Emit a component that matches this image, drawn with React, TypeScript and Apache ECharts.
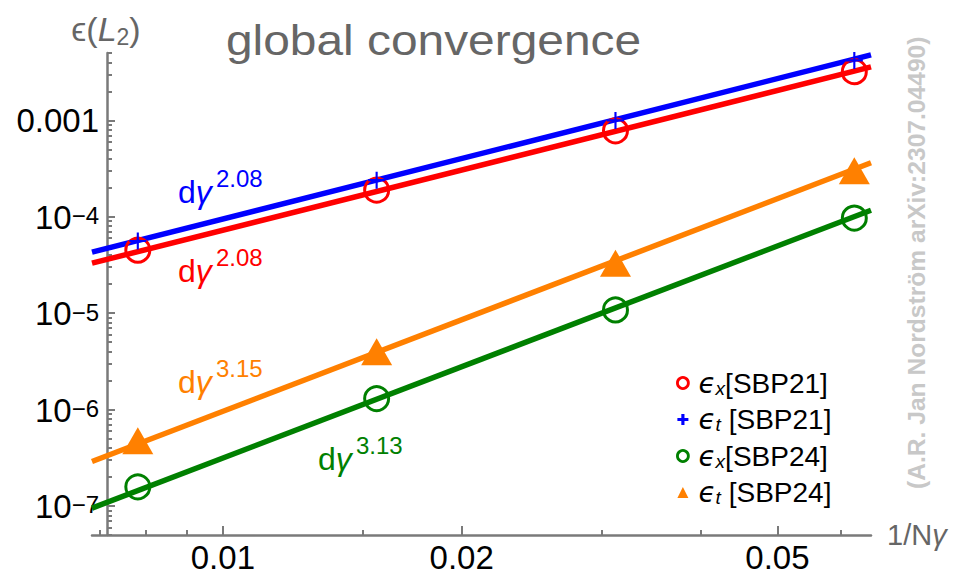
import React, { useEffect, useRef } from "react";
import * as echarts from "echarts";

// ---- data ----
const xValues = [0.0078125, 0.015625, 0.03125, 0.0625];
const epsX_SBP21 = [4.5e-5, 1.89e-4, 7.8e-4, 3.2e-3];
const epsT_SBP21 = [5.6e-5, 2.4e-4, 1.0e-3, 4.19e-3];
const epsX_SBP24 = [1.58e-7, 1.3e-6, 1.08e-5, 9.7e-5];
const epsT_SBP24 = [4.75e-7, 3.98e-6, 3.3e-5, 3.0e-4];

// fitted power-law lines: values at both ends of the x range
const fitX = [0.00684, 0.0656];
const fitT_SBP21 = [4.3e-5, 4.78e-3];
const fitX_SBP21 = [3.3e-5, 3.59e-3];
const fitT_SBP24 = [2.89e-7, 3.63e-4];
const fitX_SBP24 = [9.5e-8, 1.17e-4];

// axes
const xRange = [0.00684, 0.0656];
const yRange = [5e-8, 5e-3];
const xMajorTicks = [0.01, 0.02, 0.05];
const xMinorTicks = [0.007, 0.008, 0.009, 0.015, 0.03, 0.04, 0.06];
const yMajorTicks = [1e-7, 1e-6, 1e-5, 1e-4, 1e-3];
const yMinorMultipliers = [2, 3, 4, 5, 6, 7, 8, 9];
const yMinorDecades = [-8, -7, -6, -5, -4, -3];

const slopeLabels = [
  { text: "dγ", sup: "2.08", color: "#0000ff", x: 178, base: 203 },
  { text: "dγ", sup: "2.08", color: "#ff0000", x: 178, base: 282 },
  { text: "dγ", sup: "3.15", color: "#ff8000", x: 178, base: 393 },
  { text: "dγ", sup: "3.13", color: "#008000", x: 318, base: 470 },
];

const FONT = "'Liberation Sans', Arial, Helvetica, sans-serif";
const AXIS_GRAY = "#7a7a7a";

const legendLabels: Record<string, string> = {
  ex21: "{e|ϵ}{s|x}{t|[SBP21]}",
  et21: "{e|ϵ}{s|t}{t| [SBP21]}",
  ex24: "{e|ϵ}{s|x}{t|[SBP24]}",
  et24: "{e|ϵ}{s|t}{t| [SBP24]}",
};

const PLUS = "path://M7,0H9V7H16V9H9V16H7V9H0V7H7Z";
const PLUS_THICK = "path://M5,0H9V5H14V9H9V14H5V9H0V5H5Z";

function pairs(xs: number[], ys: number[]) {
  return xs.map((x, i) => [x, ys[i]]);
}

export default function App() {
  const ref = useRef<HTMLDivElement>(null);
  useEffect(() => {
    if (!ref.current) return;
    const chart = echarts.init(ref.current, undefined, { renderer: "svg" });

    const yMinor: number[] = [];
    yMinorDecades.forEach((d) =>
      yMinorMultipliers.forEach((m) => {
        const v = m * Math.pow(10, d);
        if (v >= yRange[0] && v <= yRange[1]) yMinor.push(v);
      })
    );

    const lineSeries = (name: string, ys: number[], color: string) => ({
      name,
      type: "line",
      data: pairs(fitX, ys),
      symbol: "none",
      lineStyle: { color, width: 5.5 },
      silent: true,
      z: 2,
    });

    const graphics: any[] = [
      {
        type: "text",
        x: 226,
        y: 41,
        scaleX: 1.14,
        style: {
          text: "global convergence",
          fill: "#666666",
          font: `42px ${FONT}`,
          align: "left",
          verticalAlign: "middle",
        },
      },
      {
        type: "text",
        x: 106,
        y: 29,
        style: {
          text: "{a|ϵ(}{b|L}{c|2}{a|)}",
          fill: "#666666",
          align: "center",
          verticalAlign: "middle",
          rich: {
            a: { fontSize: 34, fontFamily: FONT, fill: "#666666", lineHeight: 38 },
            b: { fontSize: 34, fontFamily: FONT, fontStyle: "italic", fill: "#666666", lineHeight: 38 },
            c: { fontSize: 23, fontFamily: FONT, fill: "#666666", lineHeight: 22, verticalAlign: "bottom" },
          },
        },
      },
      {
        type: "text",
        x: 916,
        y: 489,
        rotation: Math.PI / 2,
        style: {
          text: "(A.R. Jan Nordström arXiv:2307.04490)",
          fill: "#c8c8c8",
          font: `bold 24.6px ${FONT}`,
          align: "left",
          verticalAlign: "middle",
        },
      },
    ];
    slopeLabels.forEach((l) => {
      graphics.push({
        type: "text",
        x: l.x,
        y: l.base - 11,
        style: {
          text: "{d|d}{g|γ}",
          align: "left",
          verticalAlign: "middle",
          rich: {
            d: { fontSize: 32, fontFamily: FONT, fill: l.color },
            g: { fontSize: 32, fontFamily: FONT, fontStyle: "italic", fill: l.color },
          },
        },
      });
      graphics.push({
        type: "text",
        x: l.x + 38,
        y: l.base - 25,
        style: {
          text: l.sup,
          fill: l.color,
          font: `24px ${FONT}`,
          align: "left",
          verticalAlign: "middle",
        },
      });
    });

    const option: any = {
      animation: false,
      backgroundColor: "#ffffff",
      textStyle: { fontFamily: FONT },
      grid: { left: 92, right: 90, top: 53, bottom: 41 },
      xAxis: [
        {
          type: "log",
          logBase: 10,
          min: xRange[0],
          max: xRange[1],
          position: "bottom",
          name: "{a|1/N}{g|γ}",
          nameLocation: "end",
          nameGap: 16,
          nameTextStyle: {
            align: "left",
            verticalAlign: "middle",
            rich: {
              a: { fontSize: 29, color: "#666666", fontFamily: FONT },
              g: { fontSize: 29, color: "#666666", fontFamily: FONT, fontStyle: "italic" },
            },
          },
          axisLine: { show: true, lineStyle: { color: AXIS_GRAY, width: 2.5 } },
          axisTick: {
            show: true,
            inside: true,
            length: 9,
            customValues: xMajorTicks,
            lineStyle: { color: AXIS_GRAY, width: 2 },
          },
          axisLabel: {
            show: true,
            customValues: xMajorTicks,
            fontSize: 33,
            lineHeight: 33,
            color: "#000000",
            margin: 6,
            fontFamily: FONT,
            formatter: (v: number) => String(Number(v.toPrecision(3))),
          },
          splitLine: { show: false },
        },
        {
          type: "log",
          logBase: 10,
          min: xRange[0],
          max: xRange[1],
          position: "bottom",
          axisLine: { show: false },
          axisTick: {
            show: true,
            inside: true,
            length: 5,
            customValues: xMinorTicks,
            lineStyle: { color: AXIS_GRAY, width: 2 },
          },
          axisLabel: { show: false },
          splitLine: { show: false },
        },
      ],
      yAxis: [
        {
          type: "log",
          logBase: 10,
          min: yRange[0],
          max: yRange[1],
          position: "left",
          offset: -15,
          axisLine: { show: true, lineStyle: { color: AXIS_GRAY, width: 2.5 } },
          axisTick: {
            show: true,
            inside: true,
            length: 8,
            customValues: yMajorTicks,
            lineStyle: { color: AXIS_GRAY, width: 2 },
          },
          axisLabel: {
            show: true,
            customValues: yMajorTicks,
            fontSize: 33,
            color: "#000000",
            margin: 8,
            fontFamily: FONT,
            formatter: (v: number) => {
              const e = Math.round(Math.log10(v));
              if (e === -3) return "0.001";
              return `{b|10}{s|−${-e}}`;
            },
            rich: {
              b: { fontSize: 33, color: "#000", fontFamily: FONT, lineHeight: 34, padding: [10, 0, 0, 0], verticalAlign: "bottom" },
              s: { fontSize: 24, color: "#000", fontFamily: FONT, lineHeight: 22, padding: [4, 0, 0, 0], verticalAlign: "top" },
            },
          },
          splitLine: { show: false },
        },
        {
          type: "log",
          logBase: 10,
          min: yRange[0],
          max: yRange[1],
          position: "left",
          offset: -15,
          axisLine: { show: false },
          axisTick: {
            show: true,
            inside: true,
            length: 5,
            customValues: yMinor,
            lineStyle: { color: AXIS_GRAY, width: 2 },
          },
          axisLabel: { show: false },
          splitLine: { show: false },
        },
      ],
      legend: {
        orient: "vertical",
        left: 671,
        top: 364,
        itemWidth: 11,
        itemHeight: 11,
        itemGap: 8,
        selectedMode: false,
        formatter: (name: string) => legendLabels[name],
        textStyle: {
          color: "#000",
          rich: {
            e: { fontSize: 28, fontFamily: "'DejaVu Sans', sans-serif", fontStyle: "italic", lineHeight: 29, padding: [0, 0, 0, 5] },
            s: { fontSize: 19, fontFamily: FONT, fontStyle: "italic", lineHeight: 19, verticalAlign: "bottom" },
            t: { fontSize: 28, fontFamily: FONT, lineHeight: 29 },
          },
        },
        data: [
          { name: "ex21", icon: "circle", itemStyle: { color: "rgba(0,0,0,0)", borderColor: "#ff0000", borderWidth: 2.8, opacity: 1 } },
          { name: "et21", icon: PLUS_THICK, itemStyle: { color: "#0000ff", borderWidth: 0, opacity: 1 } },
          { name: "ex24", icon: "circle", itemStyle: { color: "rgba(0,0,0,0)", borderColor: "#008000", borderWidth: 2.8, opacity: 1 } },
          { name: "et24", icon: "triangle", itemStyle: { color: "#ff8000", borderWidth: 0, opacity: 1 } },
        ],
      },
      series: [
        lineSeries("fitT21", fitT_SBP21, "#0000ff"),
        lineSeries("fitX21", fitX_SBP21, "#ff0000"),
        lineSeries("fitT24", fitT_SBP24, "#ff8000"),
        lineSeries("fitX24", fitX_SBP24, "#008000"),
        {
          name: "ex21",
          type: "scatter",
          data: pairs(xValues, epsX_SBP21),
          symbol: "circle",
          symbolSize: 24,
          itemStyle: { color: "rgba(0,0,0,0)", borderColor: "#ff0000", borderWidth: 3, opacity: 1 },
          z: 3,
        },
        {
          name: "et21",
          type: "scatter",
          data: pairs(xValues, epsT_SBP21),
          symbol: PLUS,
          symbolSize: 17,
          itemStyle: { color: "#0000ff", opacity: 1 },
          z: 3,
        },
        {
          name: "ex24",
          type: "scatter",
          data: pairs(xValues, epsX_SBP24),
          symbol: "circle",
          symbolSize: 24,
          itemStyle: { color: "rgba(0,0,0,0)", borderColor: "#008000", borderWidth: 3, opacity: 1 },
          z: 3,
        },
        {
          name: "et24",
          type: "scatter",
          data: pairs(xValues, epsT_SBP24),
          symbol: "triangle",
          symbolSize: [31, 27],
          itemStyle: { color: "#ff8000", opacity: 1 },
          z: 3,
        },
      ],
      graphic: graphics,
    };

    chart.setOption(option);
    return () => chart.dispose();
  }, []);

  return (
    <div
      ref={ref}
      style={{ position: "fixed", left: 0, top: 0, width: 961, height: 576, background: "#fff" }}
    />
  );
}
